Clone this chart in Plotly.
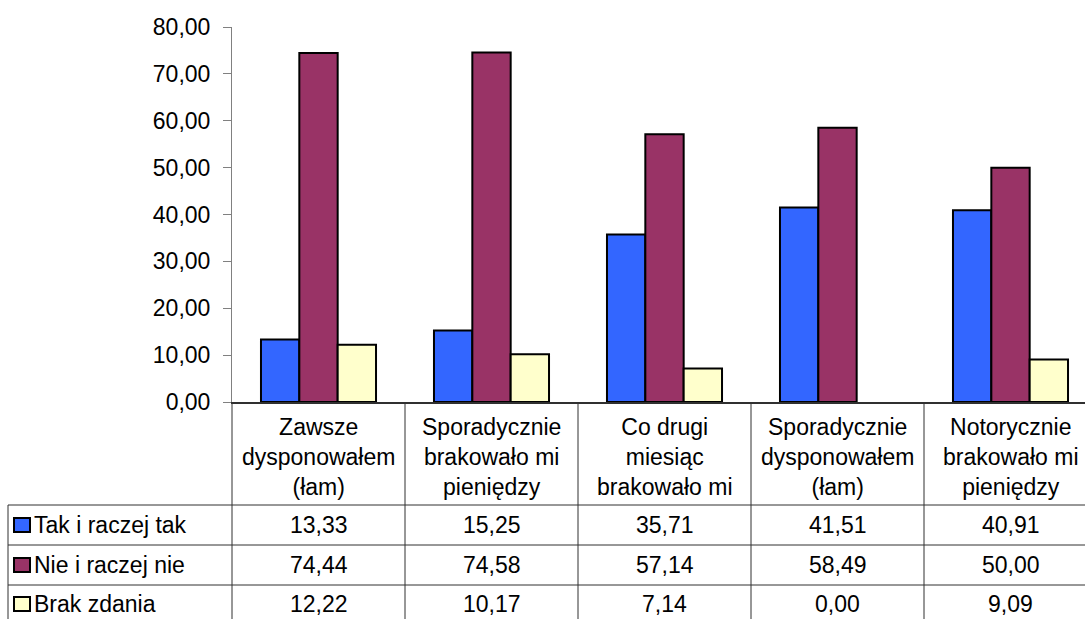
import plotly.graph_objects as go

categories = ["Zawsze<br>dysponowałem<br>(łam)",
              "Sporadycznie<br>brakowało mi<br>pieniędzy",
              "Co drugi<br>miesiąc<br>brakowało mi",
              "Sporadycznie<br>dysponowałem<br>(łam)",
              "Notorycznie<br>brakowało mi<br>pieniędzy"]
series_names = ["Tak i raczej tak", "Nie i raczej nie", "Brak zdania"]
tak = [13.33, 15.25, 35.71, 41.51, 40.91]
nie = [74.44, 74.58, 57.14, 58.49, 50.00]
brak = [12.22, 10.17, 7.14, 0.00, 9.09]
colors = ["#3366FF", "#993366", "#FFFFCC"]
y_ticks = [0, 10, 20, 30, 40, 50, 60, 70, 80]

W, H = 1085, 619
L, T, B = 232, 27, 402        # plot area edges in px
COLW = 173
XR = [-0.5, -0.5 + (W - L) / COLW]
FONT = "Liberation Sans, Arial, sans-serif"
FS = 23

def px(p):
    return (p - L) / (W - L)

def py(p):
    return (B - p) / (B - T)

def xpaper(v):
    return (v - XR[0]) / (XR[1] - XR[0])

xs = list(range(len(categories)))
fig = go.Figure()
for name, vals, c in zip(series_names, [tak, nie, brak], colors):
    fig.add_trace(go.Bar(x=xs, y=vals, name=name, hoverinfo="skip",
                         marker=dict(color=c, line=dict(color="black",
                                                        width=[0 if v == 0 else 2 for v in vals]))))

shapes = []
annots = []
line_col = "#303030"
for yy in [505, 545, 585]:
    shapes.append(dict(type="line", xref="paper", yref="paper", x0=px(8), x1=1.02, y0=py(yy), y1=py(yy),
                       line=dict(color=line_col, width=1)))
shapes.append(dict(type="line", xref="paper", yref="paper", x0=px(8), x1=px(8), y0=py(505), y1=py(640),
                   line=dict(color=line_col, width=1)))
for k in range(len(categories) + 1):
    xv = xpaper(k - 0.5)
    if xv > 1.0:
        continue
    shapes.append(dict(type="line", xref="paper", yref="paper", x0=xv, x1=xv, y0=py(402), y1=py(640),
                       line=dict(color=line_col, width=1)))

for i, cat in enumerate(categories):
    annots.append(dict(x=i, y=py(457), xref="x", yref="paper", text=cat, showarrow=False,
                       font=dict(size=FS, color="black", family=FONT), align="center",
                       xanchor="center", yanchor="middle"))

row_centers = [525, 565, 604]
for r, (name, vals, c) in enumerate(zip(series_names, [tak, nie, brak], colors)):
    yc = row_centers[r]
    shapes.append(dict(type="rect", xref="paper", yref="paper", x0=px(14), x1=px(30),
                       y0=py(yc + 7), y1=py(yc - 7), fillcolor=c, line=dict(color="black", width=2)))
    annots.append(dict(x=px(32), y=py(yc), xref="paper", yref="paper", text=name, showarrow=False,
                       font=dict(size=FS, color="black", family=FONT), xanchor="left", yanchor="middle"))
    for i, v in enumerate(vals):
        annots.append(dict(x=i, y=py(yc), xref="x", yref="paper", text=f"{v:.2f}".replace(".", ","),
                           showarrow=False, font=dict(size=FS, color="black", family=FONT),
                           xanchor="center", yanchor="middle"))

fig.update_layout(
    width=W, height=H,
    margin=dict(l=L, r=0, t=T, b=H - B, pad=0),
    paper_bgcolor="white", plot_bgcolor="white",
    barmode="group", bargap=0.335, bargroupgap=0,
    showlegend=False,
    separators=",.",
    font=dict(family=FONT, size=FS, color="black"),
    shapes=shapes, annotations=annots,
    xaxis=dict(range=XR, showticklabels=False, showgrid=False, zeroline=False,
               showline=True, linecolor=line_col, linewidth=1.5, ticks=""),
    yaxis=dict(range=[0, 80], tickvals=y_ticks, tickformat=".2f", showgrid=False, zeroline=False,
               showline=True, linecolor="#808080", linewidth=1, ticks="outside", ticklen=8,
               tickcolor="#808080", ticklabelstandoff=8,
               tickfont=dict(size=FS, color="black", family=FONT)),
)
fig.write_html("out.html", config={"displayModeBar": False},
               post_script="document.body.style.margin='0px';document.body.style.overflow='hidden';")
